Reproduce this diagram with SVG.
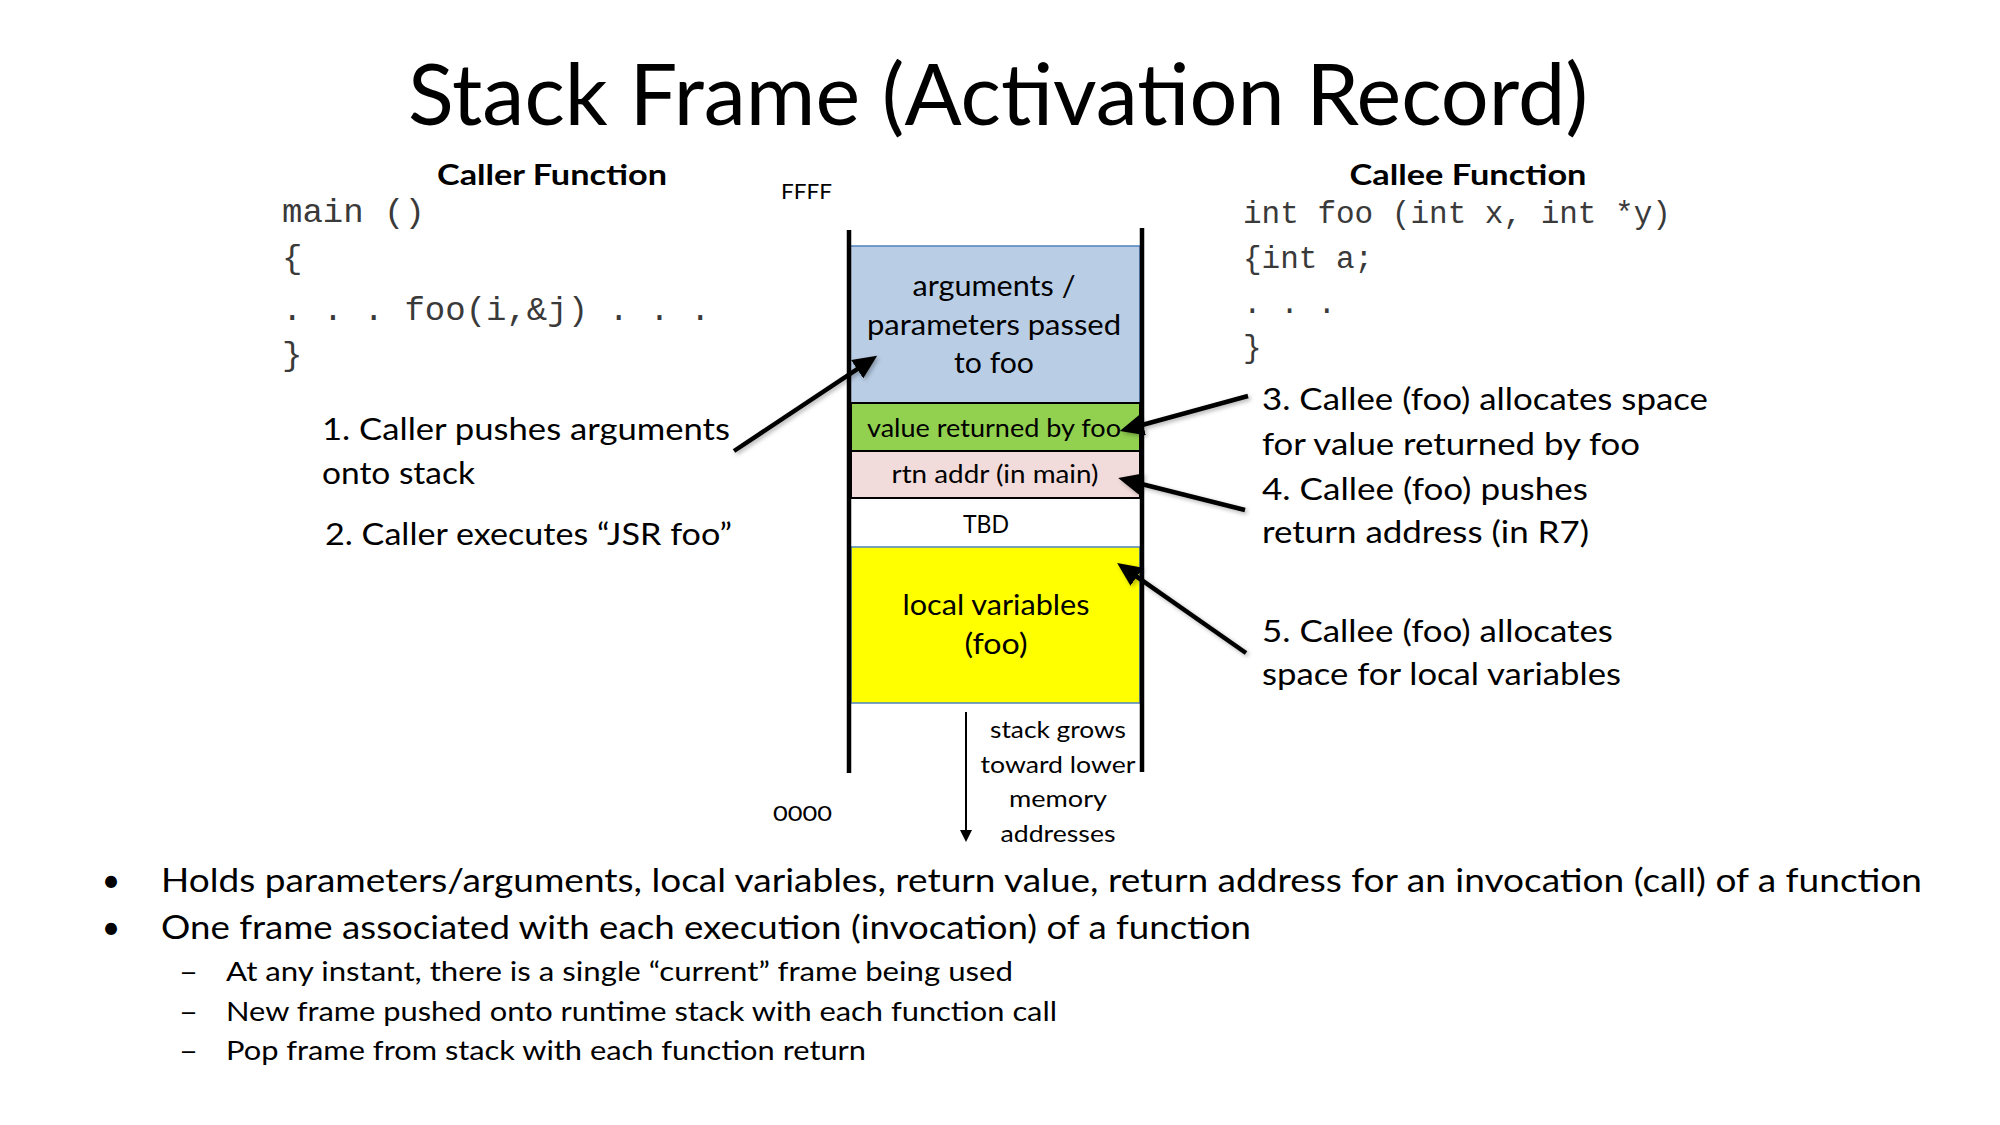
<svg xmlns="http://www.w3.org/2000/svg" width="2000" height="1125" viewBox="0 0 2000 1125">
  <defs>
    <style>
      text { font-family: Lato, "Open Sans", "Liberation Sans", sans-serif; fill: #000; }
      .mid { text-anchor: middle; }
      .title { font-size: 85px; }
      .head { font-size: 28px; font-weight: 700; }
      .code { font-family: "Liberation Mono", "DejaVu Sans Mono", monospace; fill: #3a3a3a; }
      .c34 { font-size: 34px; }
      .c31 { font-size: 31px; }
      .lbl { font-size: 30.5px; }
      .bl { font-size: 32px; }
      .sub { font-size: 26.5px; }
      .addr { font-size: 22px; }
      .blue { font-size: 29px; }
      .cell { font-size: 25px; }
      .grow { font-size: 23.5px; }
      .rail { stroke: #000; stroke-width: 4.5; }
      .conn { stroke: #000; stroke-width: 4.5; fill: none; marker-end: url(#head); }
      .thin { stroke: #000; stroke-width: 2; fill: none; marker-end: url(#small); }
    </style>
    <marker id="head" markerUnits="userSpaceOnUse" markerWidth="24" markerHeight="22" viewBox="0 0 24 22" refX="1" refY="11" orient="auto">
      <path d="M0,0 L24,11 L0,22 z" fill="#000"/>
    </marker>
    <marker id="small" markerUnits="userSpaceOnUse" markerWidth="12" markerHeight="12" viewBox="0 0 12 12" refX="1" refY="6" orient="auto">
      <path d="M0,0 L12,6 L0,12 z" fill="#000"/>
    </marker>
    <filter id="shadow" x="-20%" y="-20%" width="140%" height="140%">
      <feDropShadow dx="2" dy="2" stdDeviation="2" flood-color="#000" flood-opacity="0.3"/>
    </filter>
  </defs>

  <rect width="2000" height="1125" fill="#fff"/>

  <!-- title -->
  <text class="title mid" x="998" y="125" textLength="1180" lengthAdjust="spacingAndGlyphs">Stack Frame (Activation Record)</text>

  <!-- caller side -->
  <g id="caller">
    <text class="head mid" x="552" y="185" textLength="230" lengthAdjust="spacingAndGlyphs">Caller Function</text>
    <text class="code c34" x="282" y="222">main ()</text>
    <text class="code c34" x="282" y="268">{</text>
    <text class="code c34" x="282" y="320">. . . foo(i,&amp;j) . . .</text>
    <text class="code c34" x="282" y="365">}</text>
  </g>

  <!-- callee side -->
  <g id="callee">
    <text class="head mid" x="1468" y="185" textLength="237" lengthAdjust="spacingAndGlyphs">Callee Function</text>
    <text class="code c31" x="1243" y="223">int foo (int x, int *y)</text>
    <text class="code c31" x="1243" y="268">{int a;</text>
    <text class="code c31" x="1243" y="313">. . .</text>
    <text class="code c31" x="1243" y="357">}</text>
  </g>

  <!-- step labels -->
  <g id="step1">
    <text class="lbl" x="322" y="440" textLength="408" lengthAdjust="spacingAndGlyphs">1. Caller pushes arguments</text>
    <text class="lbl" x="322" y="484" textLength="153" lengthAdjust="spacingAndGlyphs">onto stack</text>
  </g>
  <g id="step2">
    <text class="lbl" x="325" y="545" textLength="407" lengthAdjust="spacingAndGlyphs">2. Caller executes “JSR foo”</text>
  </g>
  <g id="step3">
    <text class="lbl" x="1262" y="410" textLength="446" lengthAdjust="spacingAndGlyphs">3. Callee (foo) allocates space</text>
    <text class="lbl" x="1262" y="455" textLength="378" lengthAdjust="spacingAndGlyphs">for value returned by foo</text>
  </g>
  <g id="step4">
    <text class="lbl" x="1262" y="500" textLength="326" lengthAdjust="spacingAndGlyphs">4. Callee (foo) pushes</text>
    <text class="lbl" x="1262" y="543" textLength="327" lengthAdjust="spacingAndGlyphs">return address (in R7)</text>
  </g>
  <g id="step5">
    <text class="lbl" x="1262" y="642" textLength="351" lengthAdjust="spacingAndGlyphs">5. Callee (foo) allocates</text>
    <text class="lbl" x="1262" y="685" textLength="359" lengthAdjust="spacingAndGlyphs">space for local variables</text>
  </g>

  <!-- stack frame cells -->
  <g id="cell-args">
    <rect x="850" y="246" width="290" height="157" fill="#B9CDE5" stroke="#4F81BD" stroke-width="1.5"/>
    <text class="blue mid" x="994" y="296" textLength="163" lengthAdjust="spacingAndGlyphs">arguments /</text>
    <text class="blue mid" x="994" y="335" textLength="254" lengthAdjust="spacingAndGlyphs">parameters passed</text>
    <text class="blue mid" x="994" y="373" textLength="80" lengthAdjust="spacingAndGlyphs">to foo</text>
  </g>
  <g id="cell-retval">
    <rect x="851" y="403" width="289" height="48" fill="#92D050" stroke="#000" stroke-width="2"/>
    <text class="cell mid" x="994" y="437" textLength="254" lengthAdjust="spacingAndGlyphs">value returned by foo</text>
  </g>
  <g id="cell-rtnaddr">
    <rect x="851" y="451" width="289" height="47" fill="#F2DCDB" stroke="#000" stroke-width="2"/>
    <text class="cell mid" x="995" y="483" textLength="207" lengthAdjust="spacingAndGlyphs">rtn addr (in main)</text>
  </g>
  <g id="cell-tbd">
    <text class="cell mid" x="986" y="533" textLength="46" lengthAdjust="spacingAndGlyphs">TBD</text>
  </g>
  <g id="cell-locals">
    <rect x="851" y="547" width="289" height="156" fill="#FFFF00" stroke="#4F81BD" stroke-width="1.5"/>
    <text class="blue mid" x="996" y="615" textLength="187" lengthAdjust="spacingAndGlyphs">local variables</text>
    <text class="blue mid" x="996" y="654" textLength="63" lengthAdjust="spacingAndGlyphs">(foo)</text>
  </g>

  <!-- stack walls and address marks -->
  <g id="stack-walls">
    <line class="rail" x1="849" y1="230" x2="849" y2="773"/>
    <line class="rail" x1="1142" y1="228" x2="1142" y2="772"/>
    <text class="addr" x="781" y="199" textLength="51" lengthAdjust="spacingAndGlyphs">FFFF</text>
    <text class="addr" x="773" y="821" textLength="59" lengthAdjust="spacingAndGlyphs">0000</text>
  </g>

  <g id="growth-note">
    <text class="grow mid" x="1058" y="738" textLength="136" lengthAdjust="spacingAndGlyphs">stack grows</text>
    <text class="grow mid" x="1058" y="773" textLength="155" lengthAdjust="spacingAndGlyphs">toward lower</text>
    <text class="grow mid" x="1058" y="807" textLength="98" lengthAdjust="spacingAndGlyphs">memory</text>
    <text class="grow mid" x="1058" y="842" textLength="115" lengthAdjust="spacingAndGlyphs">addresses</text>
  </g>

  <!-- connectors -->
  <g id="connectors">
    <g filter="url(#shadow)">
      <line class="conn" x1="734" y1="451" x2="858" y2="368.6"/>
      <line class="conn" x1="1248" y1="396" x2="1142" y2="425"/>
      <line class="conn" x1="1245" y1="510" x2="1140.5" y2="483.7"/>
      <line class="conn" x1="1246" y1="653" x2="1136" y2="576.2"/>
    </g>
    <line class="thin" x1="966" y1="712" x2="966" y2="831"/>
  </g>

  <!-- bullet list -->
  <g id="bullets">
    <text class="bl mid" x="111" y="892">•</text>
    <text class="bl" x="161" y="892" textLength="1761" lengthAdjust="spacingAndGlyphs">Holds parameters/arguments, local variables, return value, return address for an invocation (call) of a function</text>
    <text class="bl mid" x="111" y="939">•</text>
    <text class="bl" x="161" y="939" textLength="1090" lengthAdjust="spacingAndGlyphs">One frame associated with each execution (invocation) of a function</text>
    <text class="sub" x="179" y="981" textLength="19" lengthAdjust="spacingAndGlyphs">–</text>
    <text class="sub" x="226" y="981" textLength="787" lengthAdjust="spacingAndGlyphs">At any instant, there is a single “current” frame being used</text>
    <text class="sub" x="179" y="1021" textLength="19" lengthAdjust="spacingAndGlyphs">–</text>
    <text class="sub" x="226" y="1021" textLength="831" lengthAdjust="spacingAndGlyphs">New frame pushed onto runtime stack with each function call</text>
    <text class="sub" x="179" y="1060" textLength="19" lengthAdjust="spacingAndGlyphs">–</text>
    <text class="sub" x="226" y="1060" textLength="640" lengthAdjust="spacingAndGlyphs">Pop frame from stack with each function return</text>
  </g>
</svg>
